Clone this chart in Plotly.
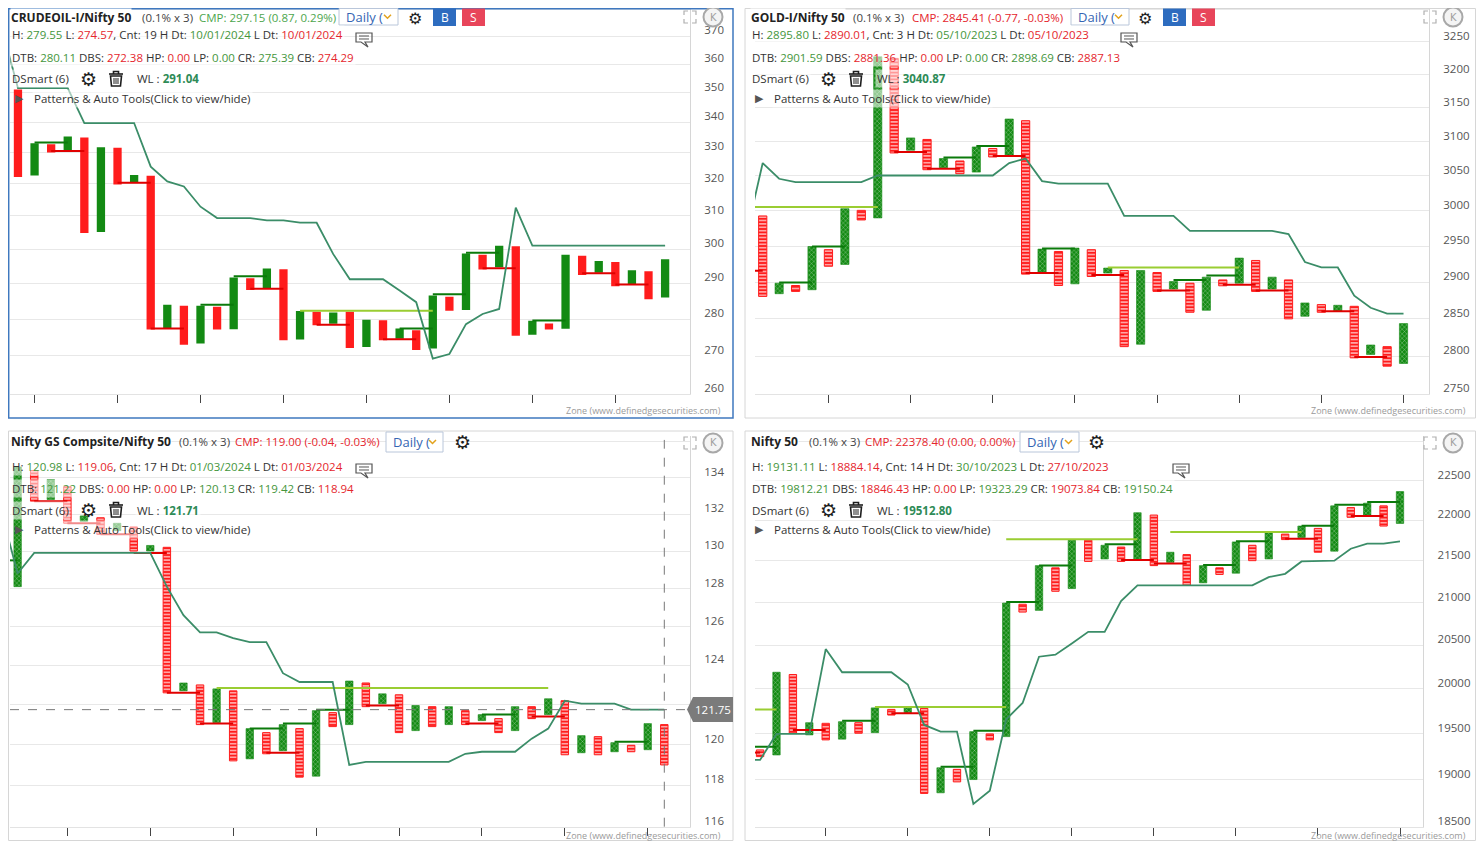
import math
import plotly.graph_objects as go

# page pixels of the reference; the html body adds an 8px margin, so the figure is drawn 8px in
PAGE_W, PAGE_H = 1484, 849
OFF = 8
W, H = PAGE_W - 2 * OFF, PAGE_H - 2 * OFF

# ---------------- CRUDEOIL-I / Nifty 50 (top left) ----------------
crude_lo = [322.1, 322.6, 330.0, 330.8, 304.8, 305.1, 319.7, 320.5, 277.1, 277.5,
            273.0, 273.3, 277.1, 277.2, 288.1, 288.6, 274.2, 274.4, 278.3, 278.7,
            272.1, 272.4, 274.2, 274.6, 271.6, 272.0, 282.3, 282.5, 294.0, 294.7,
            275.4, 275.7, 277.1, 277.3, 292.4, 293.1, 289.2, 289.8, 285.5, 286.0]
crude_hi = [351.1, 333.0, 332.7, 335.2, 334.9, 331.7, 331.5, 322.7, 322.5, 284.0,
            283.7, 283.7, 283.4, 291.7, 291.5, 294.3, 294.1, 282.2, 282.0, 281.8,
            282.0, 279.8, 279.7, 277.4, 276.9, 286.6, 286.2, 298.7, 298.3, 301.0,
            300.8, 279.5, 278.8, 298.3, 298.0, 296.5, 296.2, 293.8, 293.5, 297.0]
crude_wl = [373.6, 351.6, 351.6, 351.6, 351.6, 339.7, 339.7, 339.7, 339.7, 325.4,
            320.7, 319.1, 312.8, 309.3, 309.3, 309.3, 308.6, 308.6, 307.9, 307.9,
            298.5, 291.2, 291.2, 291.2, 288.0, 284.7, 269.3, 270.5, 278.6, 281.4,
            282.8, 312.5, 301.0, 301.0, 301.0, 301.0, 301.0, 301.0, 301.0, 301.0, 301.0]
crude_up_links = [(1, 3, 333.2), (11, 13, 284.0), (13, 15, 292.1), (23, 25, 277.4),
                  (25, 27, 286.9), (27, 29, 298.9), (31, 33, 279.6)]
crude_dn_links = [(2, 4, 330.5), (6, 8, 320.3), (8, 10, 277.4), (14, 16, 288.5),
                  (18, 20, 278.4), (22, 24, 274.5), (28, 30, 294.4), (34, 36, 292.9),
                  (36, 38, 289.7)]
crude_pat_links = [(17, 25, 282.3)]
crude_yticks = [260, 270, 280, 290, 300, 310, 320, 330, 340, 350, 360, 370, 380]
crude_xticks = [1, 6, 11, 16, 21, 26, 31, 36]

# ---------------- GOLD-I / Nifty 50 (top right) ----------------
gold_lo = [2880.5, 2884.2, 2887.3, 2889.6, 2922.0, 2924.5, 2986.8, 2989.7, 3083.2, 3087.2,
           3058.8, 3061.8, 3053.0, 3055.3, 3077.3, 3079.8, 2911.1, 2913.9, 2895.4, 2897.7,
           2907.8, 2912.5, 2812.7, 2815.9, 2887.3, 2890.5, 2858.9, 2861.6, 2895.0, 2898.6,
           2887.3, 2890.5, 2850.0, 2853.5, 2858.9, 2860.3, 2797.8, 2802.3, 2786.8, 2790.4]
gold_hi = [2992.5, 2898.6, 2895.4, 2949.4, 2945.0, 3002.8, 3000.4, 3226.9, 3224.5, 3105.3,
           3103.0, 3075.0, 3071.5, 3092.0, 3089.7, 3133.2, 3130.7, 2945.8, 2942.5, 2947.2,
           2945.0, 2919.4, 2916.1, 2916.1, 2913.3, 2900.8, 2898.6, 2906.9, 2903.1, 2933.3,
           2930.0, 2906.9, 2903.1, 2871.6, 2869.3, 2868.4, 2867.0, 2814.9, 2812.7, 2843.6]
gold_wl = [2965.7, 3068.5, 3045.7, 3040.9, 3040.9, 3040.9, 3040.9, 3040.9, 3050.4, 3050.4,
           3050.4, 3050.4, 3050.4, 3050.4, 3050.4, 3050.4, 3068.5, 3075.0, 3042.3, 3038.6,
           3038.6, 3038.6, 3038.6, 2992.5, 2992.5, 2992.5, 2992.5, 2971.3, 2971.3, 2971.3,
           2971.3, 2971.3, 2971.3, 2966.8, 2927.8, 2920.3, 2920.3, 2881.5, 2865.0, 2857.0, 2857.0]
gold_up_links = [(1, 3, 2899.5), (3, 5, 2949.4), (11, 13, 3076.5), (13, 15, 3093.5),
                 (17, 19, 2946.7), (25, 27, 2903.1), (27, 29, 2909.1)]
gold_dn_links = [(-1, 0, 2915.7), (8, 10, 3084.7), (10, 12, 3060.3), (14, 16, 3078.8),
                 (16, 18, 2912.5), (20, 22, 2909.7), (24, 26, 2888.7), (28, 30, 2896.3),
                 (30, 32, 2888.7), (34, 36, 2860.3), (36, 38, 2799.0)]
gold_pat_links = [(-1, 7, 3005.1), (21, 29, 2920.3)]
gold_yticks = [2750, 2800, 2850, 2900, 2950, 3000, 3050, 3100, 3150, 3200, 3250, 3300]
gold_xticks = [4, 9, 14, 19, 24, 29, 34, 39]

# ---------------- Nifty GS Compsite / Nifty 50 (bottom left) ----------------
gs_lo = [128.1, 132.7, 132.8, 131.5, 131.6, 130.9, 131.1, 130.0, 130.0, 122.6,
         122.7, 121.0, 121.1, 119.2, 119.3, 119.55, 119.7, 118.4, 118.45, 120.9,
         121.0, 121.9, 122.05, 120.6, 120.7, 120.9, 121.0, 121.0, 121.2, 120.6,
         120.7, 121.3, 121.5, 119.5, 119.6, 119.5, 119.65, 119.65, 119.75, 119.0]
gs_hi = [134.6, 134.4, 133.9, 133.5, 131.9, 131.8, 131.5, 131.3, 130.3, 130.2,
         123.1, 123.0, 122.8, 122.7, 120.8, 120.6, 121.0, 120.8, 121.7, 121.6,
         123.2, 123.1, 122.55, 122.5, 121.96, 121.9, 121.9, 121.7, 121.5, 121.3,
         121.9, 121.9, 122.3, 122.2, 120.45, 120.4, 120.1, 119.97, 121.05, 121.0]
gs_wl = [132.2, 128.8, 129.9, 129.9, 129.9, 129.9, 129.9, 129.9, 129.9, 129.9,
         128.1, 126.6, 125.7, 125.7, 125.4, 125.2, 125.2, 123.6, 123.15, 123.15,
         123.15, 119.0, 119.15, 119.15, 119.15, 119.15, 119.15, 119.15, 119.55, 119.65,
         119.65, 119.65, 120.3, 120.8, 122.2, 122.05, 122.05, 122.05, 121.75, 121.75, 121.75]
gs_up_links = [(-1, 0, 129.5), (14, 16, 120.8), (16, 18, 121.05), (18, 20, 121.75),
               (28, 30, 121.5), (36, 38, 120.15)]
gs_dn_links = [(1, 3, 132.7), (3, 5, 131.5), (5, 7, 130.9), (7, 9, 129.9), (9, 11, 122.6),
               (11, 13, 121.05), (15, 17, 119.6), (21, 23, 121.96), (27, 29, 121.05),
               (31, 33, 121.4)]
gs_pat_links = [(12, 32, 122.85)]
gs_yticks = [116, 118, 120, 122, 124, 126, 128, 130, 132, 134, 136]
gs_xticks = [3, 8, 13, 18, 23, 28, 33, 38]
gs_cross_price = 121.75
gs_cross_col = 39

# ---------------- Nifty 50 (bottom right) ----------------
nifty_lo = [19248, 19266, 19504, 19486, 19431, 19439, 19504, 19511, 19706, 19731,
            18852, 18858, 18975, 19000, 19431, 19467, 20888, 20908, 21135, 21167,
            21495, 21525, 21495, 21525, 21444, 21483, 21208, 21236, 21337, 21352,
            21504, 21525, 21762, 21788, 21607, 21620, 22038, 22066, 21929, 21962]
nifty_hi = [19321, 20189, 20163, 19621, 19614, 19632, 19621, 19786, 19769, 19791,
            19780, 19127, 19110, 19522, 19497, 20995, 20980, 21444, 21417, 21754,
            21754, 21692, 21670, 22095, 22066, 21607, 21578, 21444, 21417, 21733,
            21692, 21845, 21829, 21929, 21900, 22181, 22159, 22215, 22181, 22361]
nifty_wl = [19212, 19212, 19497, 19497, 19497, 20455, 20189, 20189, 20189, 20189,
            20049, 19596, 19522, 19522, 18739, 18880, 19659, 19841, 20367, 20390,
            20519, 20655, 20655, 21019, 21206, 21206, 21206, 21206, 21206, 21206,
            21206, 21206, 21305, 21345, 21495, 21500, 21504, 21650, 21712, 21712, 21741]
nifty_up_links = [(-1, 1, 19357), (5, 7, 19643), (11, 13, 19138), (13, 15, 19533),
                  (15, 17, 21007), (17, 19, 21444), (21, 23, 21704), (27, 29, 21452),
                  (29, 31, 21741), (33, 35, 21932), (35, 37, 22194), (37, 39, 22228)]
nifty_dn_links = [(-1, 0, 19292), (2, 4, 19541), (8, 10, 19725), (22, 24, 21512),
                  (24, 26, 21471), (32, 34, 21771), (36, 38, 22054)]
nifty_pat_links = [(-1, 1, 19769), (7, 15, 19797), (15, 23, 21766), (25, 33, 21857)]
nifty_yticks = [18500, 19000, 19500, 20000, 20500, 21000, 21500, 22000, 22500, 23000]
nifty_xticks = [4, 9, 14, 19, 24, 29, 34, 39]

UP = '#138a13'
DN = '#ff1c1c'
LINK_UP = '#0b7a0b'
LINK_DN = '#e00000'
PAT = '#9acd32'
WLC = '#3b8d68'
VG = '#45963c'
VR = '#e5262d'
TXT = '#333333'
FONT = 'Segoe UI, Open Sans, sans-serif'


def fx(x):
    return (x - OFF) / W


def fy(y):
    return 1 - (y - OFF) / H


def ppath(points, close=False):
    s = 'M ' + ' L '.join(f'{fx(a):.5f},{fy(b):.5f}' for a, b in points)
    return s + (' Z' if close else '')


fig = go.Figure()
shapes = []
annos = []

panels = [
    dict(s='', lo=crude_lo, hi=crude_hi, wl=crude_wl, up=crude_up_links, dn=crude_dn_links,
         pat=crude_pat_links, yt=crude_yticks, xt=crude_xticks, first_up=False, xo=False,
         px=(10, 690), py=(8, 394.2), xr=[-0.48, 40.5], yr=(260, 380.5), bw=0.5, hide=[380]),
    dict(s='2', lo=gold_lo, hi=gold_hi, wl=gold_wl, up=gold_up_links, dn=gold_dn_links,
         pat=gold_pat_links, yt=gold_yticks, xt=gold_xticks, first_up=False, xo=True,
         px=(755, 1429), py=(8, 394.2), xr=[-0.47, 40.55], yr=(2750, 3302.5), bw=0.5, hide=[3300]),
    dict(s='3', lo=gs_lo, hi=gs_hi, wl=gs_wl, up=gs_up_links, dn=gs_dn_links,
         pat=gs_pat_links, yt=gs_yticks, xt=gs_xticks, first_up=True, xo=True,
         px=(10, 690), py=(436, 826.7), xr=[-0.46, 40.55], yr=(116, 136.33), bw=0.45, hide=[136, 122]),
    dict(s='4', lo=nifty_lo, hi=nifty_hi, wl=nifty_wl, up=nifty_up_links, dn=nifty_dn_links,
         pat=nifty_pat_links, yt=nifty_yticks, xt=nifty_xticks, first_up=False, xo=True,
         px=(755, 1423.3), py=(436, 826.7), xr=[-0.31, 40.42], yr=(18500, 23075), bw=0.45, hide=[23000]),
]


def link_xy(links):
    xs, ys = [], []
    for a, b, v in links:
        xs += [a, b, None]
        ys += [v, v, None]
    return xs, ys


for p in panels:
    xa, ya = 'x' + p['s'], 'y' + p['s']
    cols = list(range(len(p['lo'])))
    is_up = [(i % 2 == 0) == p['first_up'] for i in cols]
    for up in (True, False):
        xs = [i for i in cols if is_up[i] == up]
        base = [p['lo'][i] for i in xs]
        size = [p['hi'][i] - p['lo'][i] for i in xs]
        col = UP if up else DN
        if p['xo']:
            if up:
                marker = dict(color=col, line=dict(color=col, width=0.6),
                              pattern=dict(shape='x', fgcolor='white', bgcolor=col,
                                           size=3.2, solidity=0.15, fillmode='replace'))
            else:
                marker = dict(color=col, line=dict(color=col, width=1),
                              pattern=dict(shape='-', fgcolor='white', bgcolor=col,
                                           size=3.4, solidity=0.3, fillmode='replace'))
        else:
            marker = dict(color=col, line=dict(width=0))
        fig.add_trace(go.Bar(x=xs, y=size, base=base, width=p['bw'], marker=marker,
                             xaxis=xa, yaxis=ya, hoverinfo='skip'))
    for links, col in ((p['pat'], PAT), (p['up'], LINK_UP), (p['dn'], LINK_DN)):
        lx, ly = link_xy(links)
        fig.add_trace(go.Scatter(x=lx, y=ly, mode='lines', line=dict(color=col, width=2),
                                 xaxis=xa, yaxis=ya, hoverinfo='skip'))
    fig.add_trace(go.Scatter(x=list(range(-1, len(p['wl']) - 1)), y=p['wl'], mode='lines',
                             line=dict(color=WLC, width=1.8), xaxis=xa, yaxis=ya,
                             hoverinfo='skip'))

    xk = 'xaxis' + p['s']
    yk = 'yaxis' + p['s']
    fig.layout[xk] = dict(domain=[fx(p['px'][0]), fx(p['px'][1])], range=p['xr'],
                          anchor=ya, showgrid=False, zeroline=False, showticklabels=False,
                          tickmode='array', tickvals=p['xt'], ticks='outside', ticklen=8,
                          tickcolor='#444', showline=True, linecolor='#e3e3e3', fixedrange=True)
    fig.layout[yk] = dict(domain=[fy(p['py'][1]), fy(p['py'][0])], type='log',
                          range=[math.log10(p['yr'][0]), math.log10(p['yr'][1])],
                          anchor=xa, side='right', tickmode='array', tickvals=p['yt'],
                          ticktext=['' if v in p['hide'] else str(v) for v in p['yt']],
                          gridcolor='#e8e8e8', showline=True, linecolor='#d6d6d6',
                          ticks='', ticklabelstandoff=11, ticklabelshift=-6,
                          tickfont=dict(family=FONT, size=11.5, color='#555'),
                          zeroline=False, fixedrange=True)

# ---------------- panel borders ----------------
shapes.append(dict(type='rect', xref='paper', yref='paper', x0=fx(8.7), x1=fx(733), y0=fy(418), y1=fy(8.7),
                   line=dict(color='#3f78bf', width=1.5)))
for x0, x1, y0, y1 in ((745, 1475.5, 8.5, 418), (8.5, 733, 431, 840.5), (745, 1475.5, 431, 840.5)):
    shapes.append(dict(type='rect', xref='paper', yref='paper', x0=fx(x0), x1=fx(x1), y0=fy(y1), y1=fy(y0),
                       line=dict(color='#d6d6d6', width=1)))


def c(t, col):
    return f"<span style='color:{col}'>{t}</span>"


def text(x, y, t, size=11.5, color=TXT, bg=None, anchor='left', family=FONT, pad=1):
    a = dict(xref='paper', yref='paper', x=fx(x), y=fy(y), text=t, showarrow=False,
             xanchor=anchor, yanchor='middle', font=dict(family=family, size=size, color=color),
             borderpad=pad)
    if bg:
        a['bgcolor'] = bg
    annos.append(a)


def gear(x, y, size=19):
    text(x, y, '⚙', size=size, color='#1e1e1e', anchor='center', family='DejaVu Sans', pad=0)


def trash(x, y):
    ln = dict(color='#1e1e1e', width=1.6)
    shapes.append(dict(type='path', xref='paper', yref='paper', line=ln,
                       path=ppath([(x - 7, y - 5), (x + 7, y - 5)])))
    shapes.append(dict(type='path', xref='paper', yref='paper', line=ln,
                       path=ppath([(x - 2.5, y - 5), (x - 2.5, y - 7.5), (x + 2.5, y - 7.5), (x + 2.5, y - 5)])))
    shapes.append(dict(type='path', xref='paper', yref='paper', line=ln,
                       path=ppath([(x - 5.5, y - 3), (x - 4.5, y + 7), (x + 4.5, y + 7), (x + 5.5, y - 3)], True)))
    for dx in (-2, 0, 2):
        shapes.append(dict(type='path', xref='paper', yref='paper', line=dict(color='#1e1e1e', width=1),
                           path=ppath([(x + dx, y - 1), (x + dx, y + 5)])))


def bubble(x, y):
    ln = dict(color='#555', width=1.2)
    shapes.append(dict(type='path', xref='paper', yref='paper', line=ln,
                       path=ppath([(x - 8, y - 6), (x + 8, y - 6), (x + 8, y + 3), (x + 1, y + 3),
                                   (x + 4, y + 8), (x - 3, y + 3), (x - 8, y + 3)], True)))
    for dy in (-3, 0):
        shapes.append(dict(type='path', xref='paper', yref='paper', line=dict(color='#555', width=1),
                           path=ppath([(x - 5, y + dy), (x + 5, y + dy)])))


def daily(x0, x1, y0, y1):
    shapes.append(dict(type='rect', xref='paper', yref='paper', x0=fx(x0), x1=fx(x1), y0=fy(y1),
                       y1=fy(y0), line=dict(color='#b9c6da', width=1), fillcolor='white'))
    ym = (y0 + y1) / 2
    text(x0 + 6, ym, 'Daily (', size=13, color='#3565b3', pad=0)
    shapes.append(dict(type='path', xref='paper', yref='paper', line=dict(color='#e2a21c', width=1.5),
                       path=ppath([(x1 - 14, ym - 2), (x1 - 10.5, ym + 1.5), (x1 - 7, ym - 2)])))


def button(x0, x1, y0, y1, col, t):
    shapes.append(dict(type='rect', xref='paper', yref='paper', x0=fx(x0), x1=fx(x1), y0=fy(y1),
                       y1=fy(y0), line=dict(width=0), fillcolor=col))
    text((x0 + x1) / 2, (y0 + y1) / 2, t, size=12, color='white', anchor='center', pad=0)


def corner_icons(x, y):
    ln = dict(color='#b0b0b0', width=1.2)
    for sx in (-1, 1):
        for sy in (-1, 1):
            shapes.append(dict(type='path', xref='paper', yref='paper', line=ln,
                               path=ppath([(x + sx * 2, y + sy * 6), (x + sx * 6, y + sy * 6),
                                           (x + sx * 6, y + sy * 2)])))
    cx = x + 23
    shapes.append(dict(type='circle', xref='paper', yref='paper', x0=fx(cx - 9.5), x1=fx(cx + 9.5),
                       y0=fy(y + 9.5), y1=fy(y - 9.5), line=dict(color='#a8a8a8', width=2),
                       fillcolor='#f4f4f4'))
    text(cx, y, 'K', size=10, color='#a0a0a0', anchor='center', family='DejaVu Sans', pad=0)


OV = 'rgba(255,255,255,0.55)'
headers = [
    dict(x=10, y=0, title='CRUDEOIL-I/Nifty 50', tx=[141, 198], cmp='CMP: 297.15 (0.87, 0.29%)',
         cmpc='#4da64d', box=(339, 398), gear=415, bs=True,
         r2='H: ' + c('279.55', VG) + ' L: ' + c('274.57', VR) + ', Cnt: 19 H Dt: ' + c('10/01/2024', VG)
            + ' L Dt: ' + c('10/01/2024', VR), bub=364,
         r3='DTB: ' + c('280.11', VG) + ' DBS: ' + c('272.38', VR) + ' HP: ' + c('0.00', VR) + ' LP: '
            + c('0.00', VG) + ' CR: ' + c('275.39', VG) + ' CB: ' + c('274.29', VR),
         wl='291.04', icons=690, zone=723),
    dict(x=750, y=0, title='GOLD-I/Nifty 50', tx=[852, 911], cmp='CMP: 2845.41 (-0.77, -0.03%)',
         cmpc=VR, box=(1071, 1129), gear=1145, bs=True,
         r2='H: ' + c('2895.80', VG) + ' L: ' + c('2890.01', VR) + ', Cnt: 3 H Dt: ' + c('05/10/2023', VG)
            + ' L Dt: ' + c('05/10/2023', VR), bub=1129,
         r3='DTB: ' + c('2901.59', VG) + ' DBS: ' + c('2881.36', VR) + ' HP: ' + c('0.00', VR) + ' LP: '
            + c('0.00', VG) + ' CR: ' + c('2898.69', VG) + ' CB: ' + c('2887.13', VR),
         wl='3040.87', icons=1430, zone=1468),
    dict(x=10, y=431, title='Nifty GS Compsite/Nifty 50', tx=[178, 234], cmp='CMP: 119.00 (-0.04, -0.03%)',
         cmpc=VR, box=(386, 443), gear=462, bs=False,
         r2='H: ' + c('120.98', VG) + ' L: ' + c('119.06', VR) + ', Cnt: 17 H Dt: ' + c('01/03/2024', VG)
            + ' L Dt: ' + c('01/03/2024', VR), bub=364,
         r3='DTB: ' + c('121.22', VG) + ' DBS: ' + c('0.00', VR) + ' HP: ' + c('0.00', VR) + ' LP: '
            + c('120.13', VG) + ' CR: ' + c('119.42', VG) + ' CB: ' + c('118.94', VR),
         wl='121.71', icons=690, zone=723),
    dict(x=750, y=431, title='Nifty 50', tx=[808, 864], cmp='CMP: 22378.40 (0.00, 0.00%)',
         cmpc=VR, box=(1020, 1079), gear=1096, bs=False,
         r2='H: ' + c('19131.11', VG) + ' L: ' + c('18884.14', VR) + ', Cnt: 14 H Dt: ' + c('30/10/2023', VG)
            + ' L Dt: ' + c('27/10/2023', VR), bub=1181,
         r3='DTB: ' + c('19812.21', VG) + ' DBS: ' + c('18846.43', VR) + ' HP: ' + c('0.00', VR) + ' LP: '
            + c('19323.29', VG) + ' CR: ' + c('19073.84', VR) + ' CB: ' + c('19150.24', VG),
         wl='19512.80', icons=1430, zone=1468),
]

for h in headers:
    x, y0 = h['x'], h['y']
    top = y0 == 0
    ty = 17 if top else y0 + 10.5
    text(x, ty, '<b>' + h['title'] + '</b>', size=12, color='#222', bg='white', pad=0)
    text(h['tx'][0], ty, '(0.1% x 3)', size=11.5, color='#444', pad=0)
    text(h['tx'][1], ty, h['cmp'], size=11.5, color=h['cmpc'], pad=0)
    if top:
        daily(h['box'][0], h['box'][1], 8.5, 25)
    else:
        daily(h['box'][0], h['box'][1], y0 + 1, y0 + 21)
    gear(h['gear'], 18.5 if top else ty, 16 if top else 19)
    if h['bs']:
        button(h['gear'] + 18, h['gear'] + 41, 8.5, 26, '#2d6cbf', 'B')
        button(h['gear'] + 47, h['gear'] + 70, 8.5, 26, '#e8455a', 'S')
    text(x, y0 + 35, h['r2'], size=11.5, bg=OV)
    bubble(h['bub'], y0 + 39)
    text(x, y0 + 57, h['r3'], size=11.5, bg=OV)
    text(x, y0 + 79, 'DSmart (6)', size=11.5, bg=OV)
    gear(x + 78, y0 + 79)
    trash(x + 106, y0 + 79)
    text(x + 125, y0 + 79, 'WL : ' + c('<b>' + h['wl'] + '</b>', '#2e8b57'), size=11.5, bg=OV)
    text(x + 3, y0 + 98, '▶', size=11, color='#555', family='DejaVu Sans')
    text(x + 22, y0 + 98, 'Patterns &amp; Auto Tools(Click to view/hide)', size=11.5, bg=OV)
    corner_icons(h['icons'], 17 if top else y0 + 12)
    text(h['zone'], min(y0 + 410.5, 835.5), 'Zone (www.definedgesecurities.com)', size=9, color='#9a9a9a',
         anchor='right')

# ---------------- crosshair on Nifty GS panel ----------------
shapes.append(dict(type='line', xref='x3 domain', yref='y3', x0=0, x1=1, y0=gs_cross_price,
                   y1=gs_cross_price, line=dict(color='#777', width=1, dash='dash')))
shapes.append(dict(type='line', xref='x3', yref='y3 domain', x0=gs_cross_col, x1=gs_cross_col,
                   y0=0, y1=0.99, line=dict(color='#777', width=1, dash='dash')))
shapes.append(dict(type='path', xref='paper', yref='paper', line=dict(width=0), fillcolor='#7b7b7b',
                   path=ppath([(687, 709.5), (693, 697), (733, 697), (733, 722), (693, 722)], True)))
text(713, 709.5, str(gs_cross_price), size=11.5, color='white', anchor='center')

fig.update_layout(width=W, height=H, margin=dict(l=0, r=0, t=0, b=0), showlegend=False,
                  barmode='overlay', plot_bgcolor='white', paper_bgcolor='white',
                  shapes=shapes, annotations=annos, font=dict(family=FONT))
fig.write_html('out.html')
